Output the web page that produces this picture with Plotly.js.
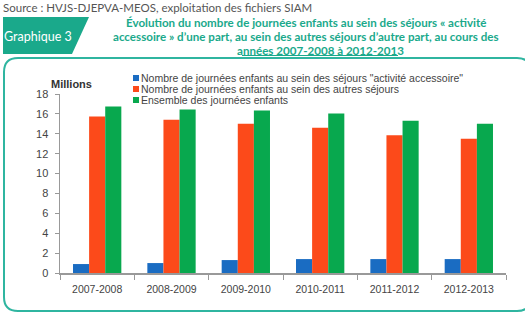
<!DOCTYPE html>
<html>
<head>
<meta charset="utf-8">
<script src="https://cdn.plot.ly/plotly-3.0.1.min.js"></script>
<style>html,body{margin:0;padding:0;background:#fff;}#chart{width:525px;height:317px;}</style>
</head>
<body>
<div id="chart"></div>
<script>
// ---- data ----
const categories = ['2007-2008', '2008-2009', '2009-2010', '2010-2011', '2011-2012', '2012-2013'];
const accessoire = [0.9, 1.0, 1.3, 1.4, 1.4, 1.4];
const autres = [15.75, 15.4, 15.0, 14.6, 13.85, 13.5];
const ensemble = [16.75, 16.45, 16.35, 16.05, 15.3, 15.0];
const seriesNames = [
  'Nombre de journées enfants au sein des séjours "activité accessoire"',
  'Nombre de journées enfants au sein des autres séjours',
  'Ensemble des journées enfants'
];
const yTicks = [0, 2, 4, 6, 8, 10, 12, 14, 16, 18];
const titleLines = [
  'Évolution du nombre de journées enfants au sein des séjours « activité',
  'accessoire » d\u2019une part, au sein des autres séjours d\u2019autre part, au cours des',
  'années 2007-2008 à 2012-2013'
];

// ---- styling ----
const colors = ['#1a6cc2', '#fc4a1a', '#08a84e'];
const teal = '#1aa98b';
const W = 525, H = 317;
const M = {l: 60, r: 19, t: 94, b: 44};
const PW = W - M.l - M.r, PH = H - M.t - M.b;
const px = x => (x - M.l) / PW;
const py = y => (H - M.b - y) / PH;

const series = [accessoire, autres, ensemble];
const traces = series.map((vals, i) => ({
  type: 'bar',
  x: categories,
  y: vals,
  name: seriesNames[i],
  marker: {color: colors[i], line: {width: 0}},
  hoverinfo: 'x+y'
}));

const annotations = [];
const shapes = [];

// source line
annotations.push({
  xref: 'paper', yref: 'paper', x: px(1), y: py(7.5), xanchor: 'left', yanchor: 'middle',
  text: 'Source : HVJS-DJEPVA-MEOS, exploitation des fichiers SIAM', showarrow: false,
  font: {family: 'Lato, sans-serif', size: 11.5, color: '#555'}
});

// Graphique box
shapes.push({
  type: 'path', xref: 'paper', yref: 'paper', layer: 'above',
  path: `M ${px(3)} ${py(17)} L ${px(89)} ${py(17)} L ${px(72)} ${py(54)} L ${px(3)} ${py(54)} Z`,
  fillcolor: teal, line: {width: 0}
});
annotations.push({
  xref: 'paper', yref: 'paper', x: px(38), y: py(36), xanchor: 'center', yanchor: 'middle',
  text: 'Graphique 3', showarrow: false,
  font: {family: 'Lato, sans-serif', size: 12.5, color: '#ffffff'}
});

// frame
const r = 14, fl = 4, ft = 58, fb = 311, fr = 531;
shapes.push({
  type: 'path', xref: 'paper', yref: 'paper', layer: 'below',
  path: `M ${px(fr - r)} ${py(ft)} L ${px(fl + r)} ${py(ft)} Q ${px(fl)} ${py(ft)} ${px(fl)} ${py(ft + r)} ` +
        `L ${px(fl)} ${py(fb - r)} Q ${px(fl)} ${py(fb)} ${px(fl + r)} ${py(fb)} ` +
        `L ${px(fr - r)} ${py(fb)} Q ${px(fr)} ${py(fb)} ${px(fr)} ${py(fb - r)} ` +
        `L ${px(fr)} ${py(ft + r)} Q ${px(fr)} ${py(ft)} ${px(fr - r)} ${py(ft)}`,
  line: {color: '#2fb5a0', width: 2}
});

// title lines
const titleY = [22, 36.5, 50.5];
const titleX = [306, 306, 320];
titleLines.forEach((t, i) => {
  annotations.push({
    xref: 'paper', yref: 'paper', x: px(titleX[i]), y: py(titleY[i]), xanchor: 'center', yanchor: 'middle',
    text: '<b>' + t + '</b>', showarrow: false,
    font: {family: 'Lato, sans-serif', size: 11.6, color: teal}
  });
});
// underline of the last title line
shapes.push({
  type: 'line', xref: 'paper', yref: 'paper', layer: 'above',
  x0: px(242), x1: px(398), y0: py(55.5), y1: py(55.5),
  line: {color: teal, width: 1}
});

// Millions label
annotations.push({
  xref: 'paper', yref: 'paper', x: px(71), y: py(84), xanchor: 'center', yanchor: 'middle',
  text: '<b>Millions</b>', showarrow: false,
  font: {family: 'Liberation Sans, Arial, sans-serif', size: 11, color: '#333'}
});

// manual legend
const legY = [78, 89, 100];
seriesNames.forEach((n, i) => {
  shapes.push({
    type: 'rect', xref: 'paper', yref: 'paper', layer: 'above',
    x0: px(133), x1: px(139), y0: py(legY[i] - 3), y1: py(legY[i] + 3),
    fillcolor: colors[i], line: {width: 0}
  });
  annotations.push({
    xref: 'paper', yref: 'paper', x: px(139), y: py(legY[i]), xanchor: 'left', yanchor: 'middle',
    text: n, showarrow: false,
    font: {family: 'Liberation Sans, Arial, sans-serif', size: 10.5, color: '#444'}
  });
});

const layout = {
  width: W, height: H,
  margin: M,
  paper_bgcolor: '#ffffff', plot_bgcolor: '#ffffff',
  font: {family: 'Liberation Sans, Arial, sans-serif', color: '#444'},
  showlegend: false,
  barmode: 'group', bargap: 0.35, bargroupgap: 0,
  xaxis: {
    type: 'category', tickson: 'boundaries', ticks: 'outside', ticklen: 5, tickcolor: '#999',
    showline: true, linecolor: '#999', linewidth: 1.5, showgrid: false,
    tickfont: {size: 10.5, color: '#444'}, ticklabelstandoff: 6
  },
  yaxis: {
    range: [0, 18], tickvals: yTicks, ticks: 'outside', ticklen: 4, tickcolor: '#999',
    showline: true, linecolor: '#999', linewidth: 1.5, showgrid: false, zeroline: false,
    tickfont: {size: 11, color: '#444'}, ticklabelstandoff: 4
  },
  shapes: shapes,
  annotations: annotations
};

Plotly.newPlot('chart', traces, layout, {displayModeBar: false, staticPlot: true});
</script>
</body>
</html>
